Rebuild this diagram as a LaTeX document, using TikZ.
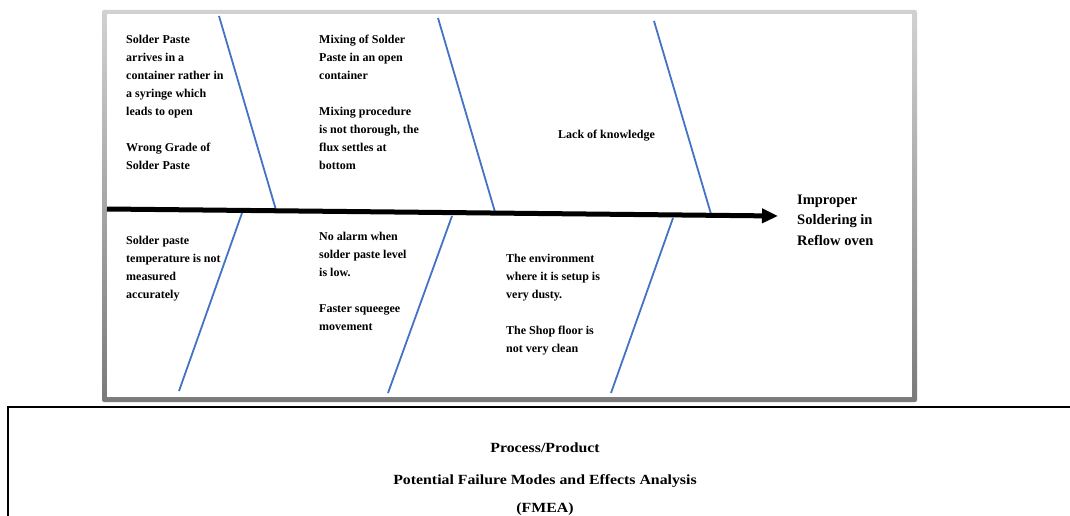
\documentclass[tikz,border=0pt]{standalone}
\usepackage{fontspec}
\setmainfont{Liberation Serif}
\usetikzlibrary{arrows.meta}
\definecolor{bone}{HTML}{4472C4}
\newcommand{\lines}[1]{\begin{tabular}[t]{@{}l@{}}#1\end{tabular}}
\tikzset{
  cause/.style={anchor=base west, inner sep=0pt, font=\bfseries\fontsize{12}{18}\selectfont},
  effect/.style={anchor=base west, inner sep=0pt, font=\bfseries\fontsize{14.5}{20.5}\selectfont},
  title/.style={anchor=base, inner sep=0pt, font=\bfseries\fontsize{14}{16}\selectfont},
  bonestyle/.style={draw=bone, line width=1.8pt},
  spinestyle/.style={draw=black, line width=5pt, -{Triangle[length=16pt,width=14pt]}},
  rule/.style={draw=black, line width=2pt}
}
\begin{document}
\begin{tikzpicture}[x=1pt,y=-1pt]
  \useasboundingbox (0,0) rectangle (1070,516);
  \fill[white] (0,0) rectangle (1070,516);

  % framed panel of the cause-and-effect chart
  \shade[top color=black!18, bottom color=black!52, rounded corners=2pt]
    (102,10) rectangle (917,402);
  \fill[white] (107,14) rectangle (912,397);

  % bone end points
  \coordinate (t1a) at (219,16);  \coordinate (t1b) at (276,210);
  \coordinate (t2a) at (438,18);  \coordinate (t2b) at (495,212);
  \coordinate (t3a) at (654,21);  \coordinate (t3b) at (711,214);
  \coordinate (u1a) at (242,213); \coordinate (u1b) at (179,391);
  \coordinate (u2a) at (452,216); \coordinate (u2b) at (388,393);
  \coordinate (u3a) at (673,218); \coordinate (u3b) at (611,393);
  \coordinate (tail) at (107,209);
  \coordinate (head) at (778,216);

  \draw[bonestyle] (t1a) -- (t1b);
  \draw[bonestyle] (t2a) -- (t2b);
  \draw[bonestyle] (t3a) -- (t3b);
  \draw[bonestyle] (u1a) -- (u1b);
  \draw[bonestyle] (u2a) -- (u2b);
  \draw[bonestyle] (u3a) -- (u3b);
  \draw[spinestyle] (tail) -- (head);

  % causes above the spine
  \node[cause] (c1) at (126,44) {\lines{Solder Paste\\ arrives in a\\ container rather in\\ a syringe which\\ leads to open\\ \\ Wrong Grade of\\ Solder Paste}};
  \node[cause] (c2) at (319,44) {\lines{Mixing of Solder\\ Paste in an open\\ container\\ \\ Mixing procedure\\ is not thorough, the\\ flux settles at\\ bottom}};
  \node[cause] (c3) at (558,139) {\lines{Lack of knowledge}};

  % causes below the spine
  \node[cause] (c4) at (126,244) {\lines{Solder paste\\ temperature is not\\ measured\\ accurately}};
  \node[cause] (c5) at (319,240) {\lines{No alarm when\\ solder paste level\\ is low.\\ \\ Faster squeegee\\ movement}};
  \node[cause] (c6) at (506,262) {\lines{The environment\\ where it is setup is\\ very dusty.\\ \\ The Shop floor is\\ not very clean}};

  % effect
  \node[effect] (eff) at (797,204) {\lines{Improper\\ Soldering in\\ Reflow oven}};

  % FMEA heading box
  \coordinate (boxtl) at (8,407);
  \coordinate (boxtr) at (1070,407);
  \coordinate (boxbl) at (8,516);
  \draw[rule] (boxtr) -- (boxtl) -- (boxbl);
  \node[title] (h1) at (545,452) {\scalebox{1.13}[1]{Process/Product}};
  \node[title] (h2) at (545,484) {\scalebox{1.13}[1]{Potential Failure Modes and Effects Analysis}};
  \node[title] (h3) at (545,512) {\scalebox{1.13}[1]{(FMEA)}};
\end{tikzpicture}
\end{document}
